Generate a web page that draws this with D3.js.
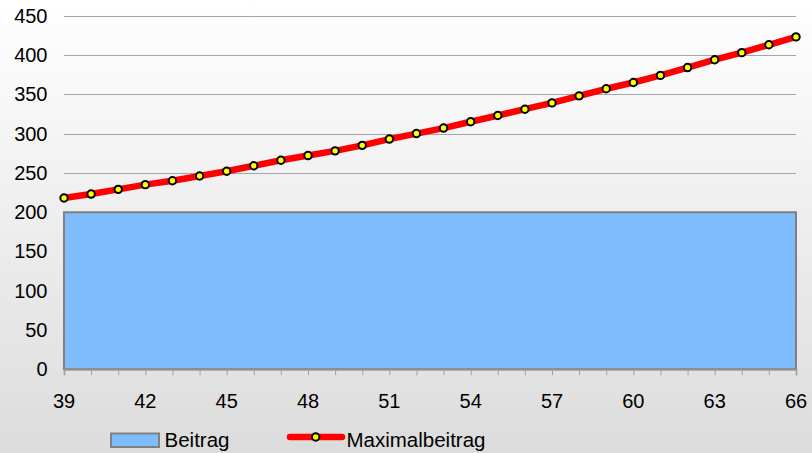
<!DOCTYPE html>
<html><head><meta charset="utf-8">
<script src="https://cdn.jsdelivr.net/npm/d3@7"></script>
<style>html,body{margin:0;padding:0;}svg{display:block;}</style>
</head><body>
<script>
const ages = d3.range(39, 67);
const beitrag = ages.map(() => 200);
const maximalbeitrag = [218,223,229,235,240,246,252,259,266,272,278,285,293,300,307,315,323,331,339,348,357,365,374,384,394,403,413,423];
const yTicks = [0,50,100,150,200,250,300,350,400,450];
const xTickLabels = [39,42,45,48,51,54,57,60,63,66];
const seriesNames = ["Beitrag", "Maximalbeitrag"];

const W = 812, H = 453;
const svg = d3.select("body").append("svg").attr("width", W).attr("height", H);
const defs = svg.append("defs");
const g = defs.append("linearGradient").attr("id","bg").attr("x1",0).attr("y1",0).attr("x2",0).attr("y2",1);
g.append("stop").attr("offset","0%").attr("stop-color","#ffffff");
g.append("stop").attr("offset","100%").attr("stop-color","#dcdcdc");
svg.append("rect").attr("width",W).attr("height",H).attr("fill","url(#bg)");

const x = d3.scaleLinear().domain([39,66]).range([64,796]);
const y = d3.scaleLinear().domain([0,450]).range([369.3,15.7]);
const font = "'Liberation Sans', Arial, sans-serif";

// gridlines
svg.append("g").selectAll("line").data(yTicks.filter(d=>d>0)).join("line")
  .attr("x1",x(39)).attr("x2",x(66))
  .attr("y1",d=>Math.round(y(d))+0.5).attr("y2",d=>Math.round(y(d))+0.5)
  .attr("stroke","#a6a6a6").attr("stroke-width",1);

// y labels
svg.append("g").selectAll("text").data(yTicks).join("text")
  .attr("x",47.5).attr("y",d=>y(d)+7)
  .attr("text-anchor","end").attr("font-family",font).attr("font-size",20).attr("fill","#000")
  .text(d=>d);

// area (Beitrag)
const area = d3.area().x((d,i)=>x(ages[i])).y0(y(0)).y1(d=>y(d));
svg.append("path").datum(beitrag).attr("d",area)
  .attr("fill","#7fbcfd").attr("stroke","#808080").attr("stroke-width",2);

// x axis
const xAxis = d3.axisBottom(x).tickValues(ages).tickSize(6).tickFormat("");
const ax = svg.append("g").attr("transform",`translate(0,${y(0)})`).call(xAxis);
ax.select(".domain").attr("stroke","#909090").attr("stroke-width",1.5);
ax.selectAll(".tick line").attr("stroke","#a0a0a0");
svg.append("g").selectAll("text").data(xTickLabels).join("text")
  .attr("x",d=>x(d)).attr("y",407.5).attr("text-anchor","middle")
  .attr("font-family",font).attr("font-size",20).attr("fill","#000").text(d=>d);

// line
const line = d3.line().x((d,i)=>x(ages[i])).y(d=>y(d));
svg.append("path").datum(maximalbeitrag).attr("d",line)
  .attr("fill","none").attr("stroke","#ff0000").attr("stroke-width",6.5)
  .attr("stroke-linecap","round").attr("stroke-linejoin","round");
svg.append("g").selectAll("circle").data(maximalbeitrag).join("circle")
  .attr("cx",(d,i)=>x(ages[i])).attr("cy",d=>y(d)).attr("r",3.7)
  .attr("fill","#ffff00").attr("stroke","#000").attr("stroke-width",2);

// legend
const lg = svg.append("g");
lg.append("rect").attr("x",111).attr("y",433.5).attr("width",48).attr("height",13.5)
  .attr("fill","#7fbcfd").attr("stroke","#808080").attr("stroke-width",2);
lg.append("text").attr("x",164.5).attr("y",446.7).attr("font-family",font).attr("font-size",20.5).text(seriesNames[0]);
lg.append("line").attr("x1",290).attr("x2",342).attr("y1",437).attr("y2",437)
  .attr("stroke","#ff0000").attr("stroke-width",6.5).attr("stroke-linecap","round");
lg.append("circle").attr("cx",315.7).attr("cy",437).attr("r",3.7)
  .attr("fill","#ffff00").attr("stroke","#000").attr("stroke-width",2);
lg.append("text").attr("x",346.5).attr("y",446.7).attr("font-family",font).attr("font-size",20.5).text(seriesNames[1]);
</script>
</body></html>
